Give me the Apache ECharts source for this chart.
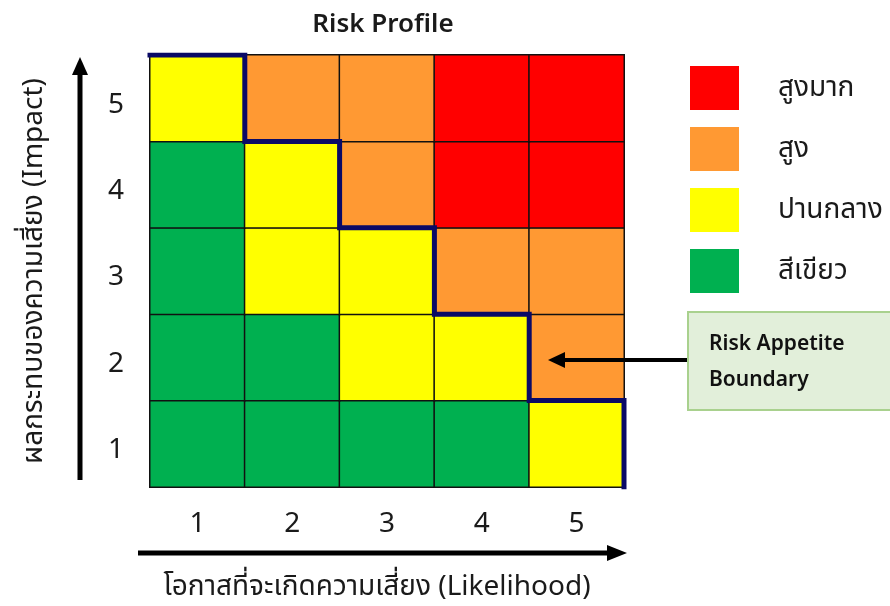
<!DOCTYPE html>
<html>
<head>
<meta charset="utf-8">
<script src="https://cdn.jsdelivr.net/npm/echarts@6/dist/echarts.min.js"></script>
<style>
  html, body { margin: 0; padding: 0; background: #fff; }
  #chart { width: 890px; height: 606px; }
</style>
</head>
<body>
<div id="chart"></div>
<script>
// Axis categories
const likelihood = ['1', '2', '3', '4', '5'];
const impact = ['1', '2', '3', '4', '5'];

// Risk level per likelihood column (0 = สีเขียว, 1 = ปานกลาง, 2 = สูง, 3 = สูงมาก)
const impact1 = [0, 0, 0, 0, 1];
const impact2 = [0, 0, 1, 1, 2];
const impact3 = [0, 1, 1, 2, 2];
const impact4 = [0, 1, 2, 3, 3];
const impact5 = [1, 2, 2, 3, 3];

// Legend names, low to high
const levelNames = ['สีเขียว', 'ปานกลาง', 'สูง', 'สูงมาก'];

// Highest impact still inside the risk appetite, per likelihood column
const appetiteLimit = [5, 4, 3, 2, 1];

const levelColors = ['#00B050', '#FFFF00', '#FF9933', '#FF0000'];
const FONT = '"Noto Sans", "Noto Sans Thai", sans-serif';

const rows = [impact1, impact2, impact3, impact4, impact5];
const cells = [];
rows.forEach((row, yi) => {
  row.forEach((lvl, xi) => cells.push([xi, yi, lvl]));
});

// Step outline along cell edges (value axes run 0..5 over the same grid)
const boundary = [];
appetiteLimit.forEach((lim, i) => {
  boundary.push([i, lim]);
  boundary.push([i + 1, lim]);
});
boundary.push([likelihood.length, 0]);

const chart = echarts.init(document.getElementById('chart'));
chart.setOption({
  animation: false,
  backgroundColor: '#fff',
  title: {
    text: 'Risk Profile',
    left: 378,
    top: 7,
    textAlign: 'center',
    textStyle: { fontFamily: FONT, fontSize: 26, fontWeight: 600, color: '#1a1a1a' }
  },
  grid: { left: 150, right: 266, top: 55, bottom: 119 },
  xAxis: [{
    type: 'category',
    data: likelihood,
    axisLine: { show: false },
    axisTick: { show: false },
    splitLine: { show: false },
    axisLabel: { margin: 23, fontFamily: FONT, fontSize: 28, color: '#1a1a1a' },
    name: 'โอกาสที่จะเกิดความเสี่ยง (Likelihood)',
    nameLocation: 'middle',
    nameGap: 86,
    nameTextStyle: { fontFamily: FONT, fontSize: 28, color: '#1a1a1a', padding: [0, 20, 0, 0] }
  }, {
    type: 'value', min: 0, max: 5, show: false
  }],
  yAxis: [{
    type: 'category',
    data: impact,
    axisLine: { show: false },
    axisTick: { show: false },
    splitLine: { show: false },
    axisLabel: { margin: 26, fontFamily: FONT, fontSize: 28, color: '#1a1a1a', verticalAlign: 'top', lineHeight: 13 },
    name: 'ผลกระทบของความเสี่ยง (Impact)',
    nameLocation: 'middle',
    nameGap: 102,
    nameTextStyle: { fontFamily: FONT, fontSize: 28, color: '#1a1a1a' }
  }, {
    type: 'value', min: 0, max: 5, show: false
  }],
  visualMap: {
    type: 'piecewise',
    dimension: 2,
    seriesIndex: 0,
    orient: 'vertical',
    align: 'left',
    left: 675,
    top: 51,
    itemWidth: 49,
    itemHeight: 44,
    itemGap: 17,
    textGap: 39,
    itemSymbol: 'rect',
    selectedMode: false,
    hoverLink: false,
    textStyle: { fontFamily: FONT, fontSize: 28, color: '#1a1a1a' },
    pieces: levelNames.map((name, i) => ({ value: i, label: name, color: levelColors[i] }))
  },
  series: [{
    type: 'heatmap',
    data: cells,
    itemStyle: { borderColor: '#111', borderWidth: 1.5 },
    emphasis: { disabled: true },
    label: { show: false }
  }, {
    type: 'line',
    xAxisIndex: 1,
    yAxisIndex: 1,
    data: boundary,
    symbol: 'none',
    lineStyle: { color: '#0A0A66', width: 5, join: 'miter', cap: 'square' },
    z: 5
  }],
  graphic: [
    // vertical axis arrow
    { type: 'line', z: 100, shape: { x1: 80, y1: 480, x2: 80, y2: 72 }, style: { stroke: '#000', lineWidth: 5 } },
    { type: 'polygon', z: 100, shape: { points: [[72, 75], [88, 75], [80, 57]] }, style: { fill: '#000' } },
    // horizontal axis arrow
    { type: 'line', z: 100, shape: { x1: 138, y1: 553, x2: 610, y2: 553 }, style: { stroke: '#000', lineWidth: 5 } },
    { type: 'polygon', z: 100, shape: { points: [[607, 545], [607, 561], [627, 553]] }, style: { fill: '#000' } },
    // annotation box
    { type: 'rect', z: 100, shape: { x: 688, y: 312, width: 220, height: 98 },
      style: { fill: '#E2EFDA', stroke: '#A9D18E', lineWidth: 2 } },
    { type: 'text', z: 101, x: 709, y: 344,
      style: { text: 'Risk Appetite', fontFamily: FONT, fontSize: 21, fontWeight: 600, fill: '#111', verticalAlign: 'middle' } },
    { type: 'text', z: 101, x: 709, y: 380,
      style: { text: 'Boundary', fontFamily: FONT, fontSize: 21, fontWeight: 600, fill: '#111', verticalAlign: 'middle' } },
    { type: 'line', z: 100, shape: { x1: 687, y1: 360, x2: 562, y2: 360 }, style: { stroke: '#000', lineWidth: 4 } },
    { type: 'polygon', z: 100, shape: { points: [[548, 360], [565, 352], [565, 368]] }, style: { fill: '#000' } }
  ]
});
</script>
</body>
</html>
